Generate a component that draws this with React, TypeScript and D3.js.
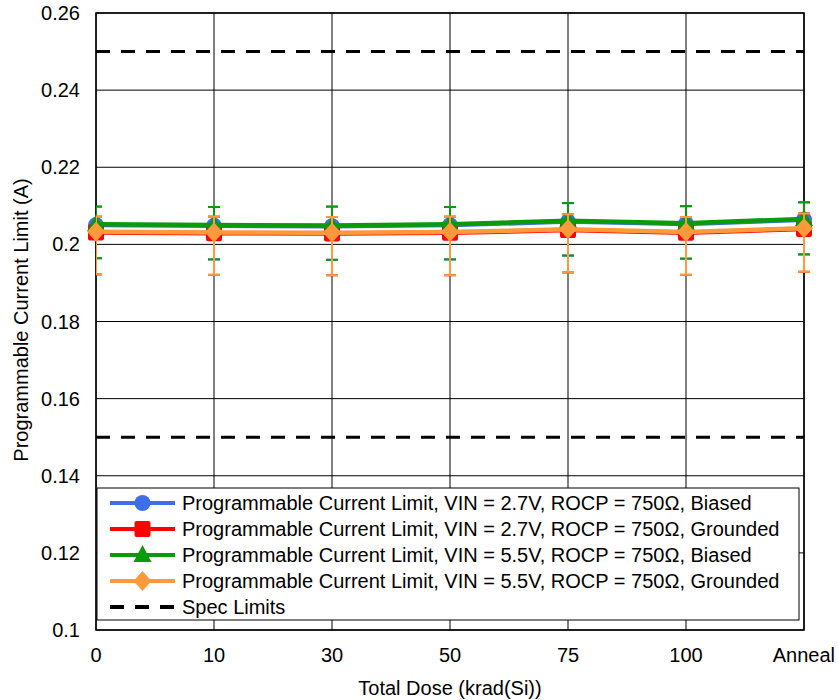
import React from "react";
import * as d3 from "d3";

// Total-dose categories and y-axis ticks
const categories = ["0", "10", "30", "50", "75", "100", "Anneal"];
const yTicks = [0.1, 0.12, 0.14, 0.16, 0.18, 0.2, 0.22, 0.24, 0.26];
const specLimits = [0.15, 0.25];

// Mean current limit per dose step (A)
const blueMean = [0.205, 0.2048, 0.2047, 0.205, 0.2059, 0.2053, 0.2064];
const redMean = [0.2031, 0.2029, 0.2028, 0.203, 0.2037, 0.203, 0.204];
const greenMean = [0.2052, 0.205, 0.2049, 0.2052, 0.2061, 0.2055, 0.2066];
const orangeMean = [0.2033, 0.2031, 0.203, 0.2032, 0.2039, 0.2032, 0.2042];

// Error bar bounds (min / max across units)
const blueLow = [0.1964, 0.1961, 0.196, 0.1961, 0.1971, 0.1963, 0.1974];
const blueHigh = [0.2098, 0.2097, 0.2098, 0.2097, 0.2107, 0.2099, 0.2109];
const redLow = [0.1922, 0.1921, 0.192, 0.192, 0.1927, 0.1921, 0.1929];
const redHigh = [0.2072, 0.2072, 0.2071, 0.2072, 0.2078, 0.2071, 0.208];
const greenLow = [0.1964, 0.1961, 0.196, 0.1961, 0.1971, 0.1963, 0.1974];
const greenHigh = [0.2098, 0.2097, 0.2098, 0.2097, 0.2107, 0.2099, 0.2109];
const orangeLow = [0.1922, 0.1921, 0.192, 0.192, 0.1927, 0.1921, 0.1929];
const orangeHigh = [0.2072, 0.2072, 0.2071, 0.2072, 0.2078, 0.2071, 0.208];

const seriesNames = [
  "Programmable Current Limit, VIN = 2.7V, ROCP = 750\u03A9, Biased",
  "Programmable Current Limit, VIN = 2.7V, ROCP = 750\u03A9, Grounded",
  "Programmable Current Limit, VIN = 5.5V, ROCP = 750\u03A9, Biased",
  "Programmable Current Limit, VIN = 5.5V, ROCP = 750\u03A9, Grounded",
];
const specName = "Spec Limits";

type Shape = "circle" | "square" | "triangle" | "diamond";

const series = [
  { name: seriesNames[0], color: "#3f6fe8", shape: "circle" as Shape, mean: blueMean, low: blueLow, high: blueHigh },
  { name: seriesNames[1], color: "#ff0000", shape: "square" as Shape, mean: redMean, low: redLow, high: redHigh },
  { name: seriesNames[2], color: "#0a9a0a", shape: "triangle" as Shape, mean: greenMean, low: greenLow, high: greenHigh },
  { name: seriesNames[3], color: "#ff9a3c", shape: "diamond" as Shape, mean: orangeMean, low: orangeLow, high: orangeHigh },
];

const W = 838;
const H = 700;
const left = 96;
const right = 804;
const top = 13;
const bottom = 630;
const font = "'Liberation Sans', Arial, sans-serif";
const fs = 20;

function Marker({ shape, x, y, color }: { shape: Shape; x: number; y: number; color: string }) {
  if (shape === "circle") return <circle cx={x} cy={y} r={8} fill={color} />;
  if (shape === "square")
    return <rect x={x - 8} y={y - 8} width={16} height={16} rx={2} fill={color} />;
  if (shape === "triangle")
    return <path d={`M${x},${y - 10}L${x + 9},${y + 7}L${x - 9},${y + 7}Z`} fill={color} />;
  return <path d={`M${x},${y - 10}L${x + 9},${y}L${x},${y + 10}L${x - 9},${y}Z`} fill={color} />;
}

export default function App() {
  const x = d3.scalePoint<string>().domain(categories).range([left, right]);
  const y = d3.scaleLinear().domain([0.1, 0.26]).range([bottom, top]);
  const line = d3
    .line<number>()
    .x((_, i) => x(categories[i]) as number)
    .y((d) => y(d));

  const legendTop = 488;
  const legendBottom = 620;
  const legendLeft = 97;
  const legendRight = 799;
  const rowY = (i: number) => 503 + i * 26;

  return (
    <svg width={W} height={H} style={{ position: "absolute", left: 0, top: 0, background: "#fff" }}>
      <defs>
        <clipPath id="plotClip">
          <rect x={left} y={0} width={W - left} height={H} />
        </clipPath>
      </defs>
      {/* horizontal grid */}
      {yTicks.map((t) => (
        <line key={"h" + t} x1={left} x2={right} y1={y(t)} y2={y(t)} stroke="#000" strokeWidth={1} />
      ))}
      {/* vertical grid */}
      {categories.map((c) => (
        <line key={"v" + c} x1={x(c)} x2={x(c)} y1={top} y2={bottom} stroke="#000" strokeWidth={1} />
      ))}
      <rect x={left} y={top} width={right - left} height={bottom - top} fill="none" stroke="#000" strokeWidth={1.5} />

      {/* spec limits */}
      {specLimits.map((s) => (
        <line key={"s" + s} x1={left} x2={right} y1={y(s)} y2={y(s)} stroke="#000" strokeWidth={3} strokeDasharray="14,11" />
      ))}

      {/* y tick labels */}
      {yTicks.map((t) => (
        <text key={"yl" + t} x={80} y={y(t)} textAnchor="end" dominantBaseline="central" fontFamily={font} fontSize={fs}>
          {d3.format("~g")(t)}
        </text>
      ))}
      {/* x tick labels */}
      {categories.map((c) => (
        <text key={"xl" + c} x={c === "Anneal" ? 835 : (x(c) as number)} y={655} textAnchor={c === "Anneal" ? "end" : "middle"} dominantBaseline="central" fontFamily={font} fontSize={fs}>
          {c}
        </text>
      ))}
      <text x={(left + right) / 2} y={688} textAnchor="middle" dominantBaseline="central" fontFamily={font} fontSize={fs}>
        Total Dose (krad(Si))
      </text>
      <text transform={`translate(21,320) rotate(-90)`} textAnchor="middle" dominantBaseline="central" fontFamily={font} fontSize={fs}>
        Programmable Current Limit (A)
      </text>

      {/* series */}
      {series.map((s) => (
        <g key={s.name}>
          <path d={line(s.mean) || ""} fill="none" stroke={s.color} strokeWidth={4.5} />
          <g clipPath="url(#plotClip)">
            {s.mean.map((_, i) => {
              const cx = x(categories[i]) as number;
              return (
                <g key={i} stroke={s.color} strokeWidth={2}>
                  <line x1={cx} x2={cx} y1={y(s.low[i])} y2={y(s.high[i])} />
                  <line x1={cx - 6} x2={cx + 6} y1={y(s.low[i])} y2={y(s.low[i])} />
                  <line x1={cx - 6} x2={cx + 6} y1={y(s.high[i])} y2={y(s.high[i])} />
                </g>
              );
            })}
          </g>
          {s.mean.map((v, i) => (
            <Marker key={i} shape={s.shape} x={x(categories[i]) as number} y={y(v)} color={s.color} />
          ))}
        </g>
      ))}

      {/* legend */}
      <rect x={legendLeft} y={legendTop} width={legendRight - legendLeft} height={legendBottom - legendTop} fill="#fff" stroke="#000" strokeWidth={1} />
      {series.map((s, i) => (
        <g key={"lg" + i}>
          <line x1={110} x2={175} y1={rowY(i)} y2={rowY(i)} stroke={s.color} strokeWidth={4} />
          <Marker shape={s.shape} x={142.5} y={rowY(i)} color={s.color} />
          <text x={182} y={rowY(i)} dominantBaseline="central" fontFamily={font} fontSize={fs}>
            {s.name}
          </text>
        </g>
      ))}
      <line x1={110} x2={175} y1={rowY(4)} y2={rowY(4)} stroke="#000" strokeWidth={4} strokeDasharray="14,11" />
      <text x={182} y={rowY(4)} dominantBaseline="central" fontFamily={font} fontSize={fs}>
        {specName}
      </text>
    </svg>
  );
}
